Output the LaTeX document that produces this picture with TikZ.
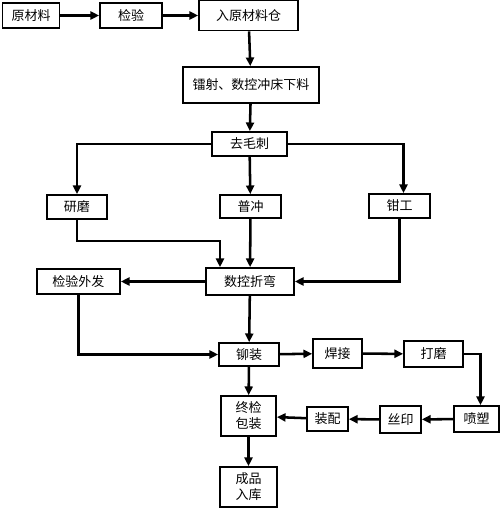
\documentclass[tikz,border=0pt]{standalone}
\usepackage{fontspec}
\newfontfamily\cjk{Noto Sans CJK SC}
\usetikzlibrary{arrows.meta,positioning}

\begin{document}
\begin{tikzpicture}[
        x=0.75pt, y=-0.75pt,
        box/.style={draw, line width=1.3pt, inner sep=1pt, align=center, font=\cjk\fontsize{9.75}{12}\selectfont},
        ar/.style={-{Triangle[length=6.5pt, width=6pt]}, line width=1.9pt}
    ]
        \useasboundingbox (0,0) rectangle (500,508);
        \node (raw) [box, minimum width=42.75pt, minimum height=18.75pt] at (31,15.5) {原材料};
        \node (insp) [box, minimum width=46.5pt, minimum height=18.75pt] at (131,15.5) {检验};
        \node (store) [box, minimum width=74.25pt, minimum height=22.5pt] at (248.5,15.5) {入原材料仓};
        \node (cut) [box, minimum width=102pt, minimum height=27pt] at (251,85) {镭射、数控冲床下料};
        \node (deburr) [box, minimum width=56.25pt, minimum height=18pt] at (249.5,144) {去毛刺};
        \node (grind) [box, minimum width=45pt, minimum height=18pt] at (77,207) {研磨};
        \node (punch) [box, minimum width=45.75pt, minimum height=17.25pt] at (250.5,206.5) {普冲};
        \node (fitter) [box, minimum width=45.75pt, minimum height=18pt] at (399.5,206) {钳工};
        \node (bend) [box, minimum width=66pt, minimum height=20.25pt] at (250,281.5) {数控折弯};
        \node (outsrc) [box, minimum width=62.25pt, minimum height=18.75pt] at (78.5,281.5) {检验外发};
        \node (rivet) [box, minimum width=45pt, minimum height=17.25pt] at (249,354.5) {铆装};
        \node (weld) [box, minimum width=36.75pt, minimum height=21.75pt] at (337.5,353.5) {焊接};
        \node (polish) [box, minimum width=44.25pt, minimum height=19.5pt] at (433.5,354) {打磨};
        \node (spray) [box, minimum width=33.75pt, minimum height=19.5pt] at (476.5,419) {喷塑};
        \node (silk) [box, minimum width=30.75pt, minimum height=20.25pt] at (400.5,419.5) {丝印};
        \node (assem) [box, minimum width=30.75pt, minimum height=18pt] at (327.5,419) {装配};
        \node (final) [box, minimum width=41.25pt, minimum height=30pt] at (248.5,416) {终检\\包装};
        \node (stock) [box, minimum width=42.75pt, minimum height=30pt] at (248.5,487) {成品\\入库};
        \coordinate (j1) at (220,241);
        \draw[ar] (raw) -- (insp);
        \draw[ar] (insp) -- (store);
        \draw[ar] (store) -- (cut);
        \draw[ar] (cut) -- (deburr);
        \draw[ar] (deburr.west) -| (grind.north);
        \draw[ar] (deburr) -- (punch);
        \draw[ar] (deburr.east) -| ([xshift=3pt]fitter.north);
        \draw[ar] (grind.south) |- (j1) -- (j1 |- bend.north);
        \draw[ar] (punch) -- (bend);
        \draw[ar] (fitter.south) |- (bend.east);
        \draw[ar] (bend) -- (outsrc);
        \draw[ar] (outsrc.south) |- (rivet.west);
        \draw[ar] (bend) -- (rivet);
        \draw[ar] (rivet) -- (weld);
        \draw[ar] (weld) -- (polish);
        \draw[ar] (polish.east) -| ([xshift=3pt]spray.north);
        \draw[ar] (spray) -- (silk);
        \draw[ar] (silk) -- (assem);
        \draw[ar] (assem) -- (final);
        \draw[ar] (rivet) -- (final);
        \draw[ar] (final) -- (stock);
    \end{tikzpicture}
\end{document}
